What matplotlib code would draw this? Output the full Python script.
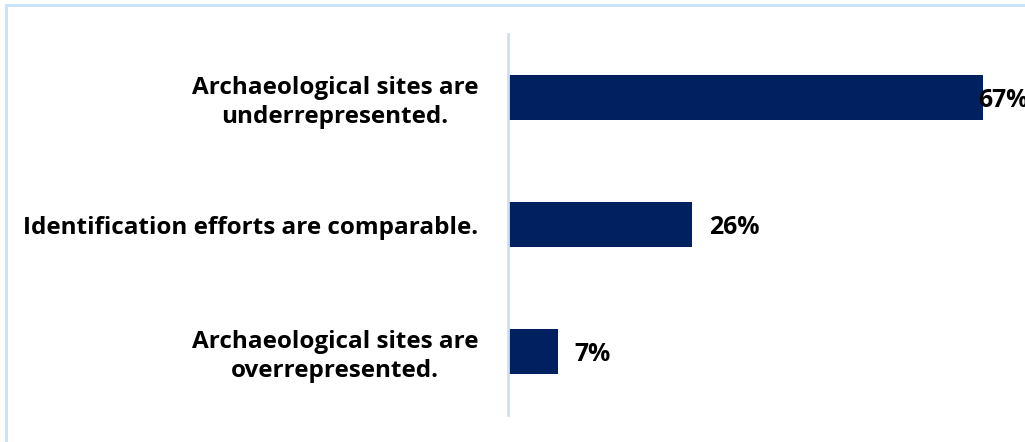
import matplotlib
matplotlib.use("Agg")
import matplotlib.pyplot as plt
from matplotlib.patches import Rectangle

categories = [
    "Archaeological sites are\nunderrepresented.",
    "Identification efforts are comparable.",
    "Archaeological sites are\noverrepresented.",
]
values = [67, 26, 7]
value_labels = ["67%", "26%", "7%"]

plt.rcParams['font.family'] = ['Open Sans', 'DejaVu Sans']

fig = plt.figure(figsize=(10.25, 4.42), dpi=100)
fig.patch.set_facecolor("white")
fig.add_artist(Rectangle((6/1025, -0.1), 1.2, 1 - 5/442 + 0.1, transform=fig.transFigure,
                         fill=False, edgecolor="#c6e2f8", linewidth=2))

ax = fig.add_axes([508/1025, 1 - 415/442, (1020 - 508)/1025, (415 - 34)/442])
y = list(range(len(categories)))
ax.barh(y, values, height=0.35, color="#002060")
ax.set_ylim(len(categories) - 0.5, -0.5)
ax.set_xlim(0, 67 * (1020 - 508) / (983 - 508))
ax.set_yticks(y)
ax.set_yticklabels(categories, fontsize=17.5, fontweight="bold", ha="right",
                   multialignment="center", linespacing=1.25)
ax.tick_params(axis="y", length=0, pad=21.5)
ax.set_xticks([])
for s in ["top", "right", "bottom"]:
    ax.spines[s].set_visible(False)
ax.spines["left"].set_color("#c6e2f8")
ax.spines["left"].set_linewidth(2)

offsets = [-5, 17, 17]
for yi, v, t, off in zip(y, values, value_labels, offsets):
    ax.annotate(t, (v, yi), xytext=(off, 0), textcoords="offset pixels",
                ha="left", va="center_baseline", fontsize=17.8, fontweight="bold",
                annotation_clip=False)

fig.savefig("out.png", dpi=100)
